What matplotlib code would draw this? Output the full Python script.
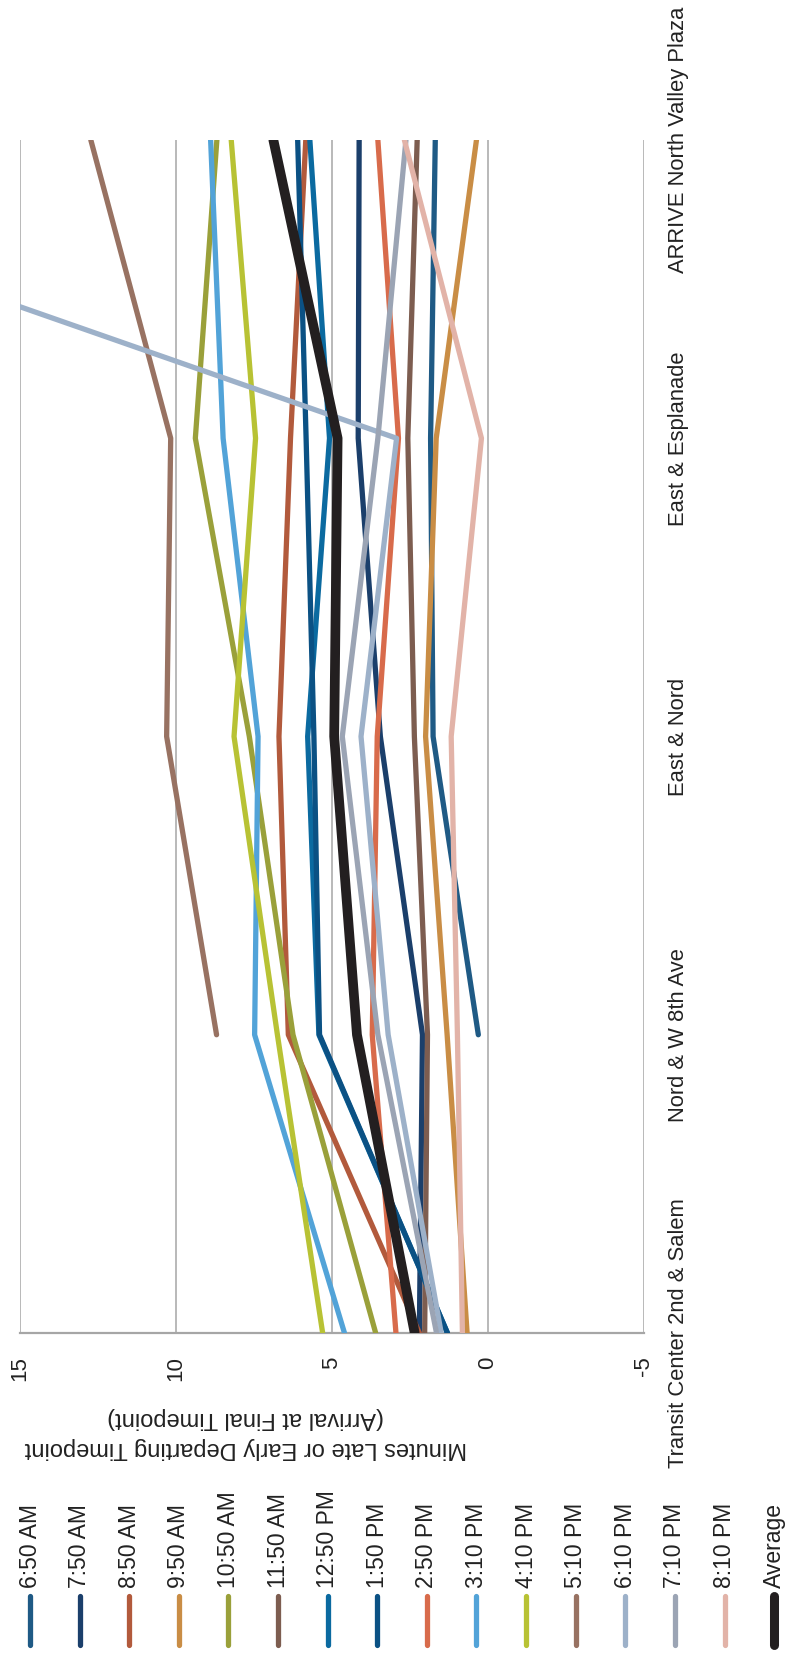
import numpy as np
import matplotlib
matplotlib.use("Agg")
import matplotlib.pyplot as plt

FONT = ["Liberation Sans", "DejaVu Sans"]

stops = ["Transit Center 2nd & Salem", "Nord & W 8th Ave", "East & Nord",
         "East & Esplanade", "ARRIVE North Valley Plaza"]

trips = ["6:50 AM", "7:50 AM", "8:50 AM", "9:50 AM", "10:50 AM", "11:50 AM",
         "12:50 PM", "1:50 PM", "2:50 PM", "3:10 PM", "4:10 PM", "5:10 PM",
         "6:10 PM", "7:10 PM", "8:10 PM"]

nan = np.nan
# minutes late at each timepoint, in stop order
t0650 = [nan, 0.31, 1.76, 1.84, 1.69]
t0750 = [2.2, 2.1, 3.45, 4.16, 4.13]
t0850 = [2.2, 6.4, 6.7, 6.33, 5.84]
t0950 = [0.67, 1.31, 2.0, 1.66, 0.37]
t1050 = [3.6, 6.25, 7.65, 9.38, 8.69]
t1150 = [2.03, 1.94, 2.36, 2.57, 2.27]
t1250 = [1.3, 5.42, 5.78, 5.08, 5.71]
t1350 = [1.3, 5.4, 5.58, 5.83, 6.1]
t1450 = [2.95, 3.71, 3.55, 2.87, 3.53]
t1510 = [4.6, 7.48, 7.37, 8.49, 8.89]
t1610 = [5.3, 6.75, 8.14, 7.45, 8.23]
t1710 = [nan, 8.7, 10.3, 10.17, 12.73]
t1810 = [1.5, 3.2, 4.07, 2.93, 30.3]
t1910 = [1.65, 3.53, 4.67, 3.53, 2.63]
t2010 = [0.82, 0.98, 1.18, 0.21, 2.68]
average = [2.35, 4.2, 4.93, 4.82, 6.88]

series = [t0650, t0750, t0850, t0950, t1050, t1150, t1250, t1350,
          t1450, t1510, t1610, t1710, t1810, t1910, t2010]

colors = ["#1F5A85", "#1B3F6B", "#B25A3C", "#C98D45", "#9AA03A", "#7D5D50",
          "#0B6AA0", "#0B5184", "#D86B4B", "#52A3D8", "#B8C234", "#987262",
          "#9DB1C9", "#9BA4B4", "#E2B3A8"]
avg_color = "#231F20"
grid_color = "#A6A6A6"
text_color = "#222222"

W, H = 789, 1659
fig = plt.figure(figsize=(W / 100, H / 100), dpi=100)

# chart is laid on its side: minutes run right-to-left, stops bottom-to-top
ax = fig.add_axes([20 / W, 1 - 1333 / H, 624 / W, 1193 / H])
pos = np.arange(len(stops))
for vals, c in zip(series, colors):
    ax.plot(vals, pos, color=c, lw=3.8, solid_capstyle="round",
            solid_joinstyle="round", zorder=3)
ax.plot(average, pos, color=avg_color, lw=7.0, solid_capstyle="round",
        solid_joinstyle="round", zorder=4)

ax.set_xlim(15, -5)
ax.set_ylim(0, len(stops) - 1)
ax.set_xticks([15, 10, 5, 0, -5])
ax.set_xticklabels(["15", "10", "5", "0", "-5"], rotation=90,
                   family=FONT, fontsize=16, color=text_color)
ax.grid(axis="x", color=grid_color, lw=1.1, zorder=1)
ax.tick_params(axis="x", length=0, pad=17)

ax.yaxis.tick_right()
ax.set_yticks(pos)
ax.set_yticklabels(stops, rotation=90, va="center", ha="left",
                   family=FONT, fontsize=15.8, color=text_color)
ax.tick_params(axis="y", length=0, pad=17)

for side in ["top", "left", "right"]:
    ax.spines[side].set_visible(False)
ax.spines["bottom"].set_color(grid_color)
ax.spines["bottom"].set_linewidth(1.6)

fig.text(246 / W, 1 - 1433 / H,
         "Minutes Late or Early Departing Timepoint\n(Arrival at Final Timepoint)",
         rotation=180, ha="center", va="center", multialignment="center",
         family=FONT, fontsize=17, color=text_color, linespacing=1.45)

# legend row along the foot of the page
lg = fig.add_axes([0, 0, 1, 169 / H])
lg.set_xlim(-0.605, 15.30)
lg.set_ylim(H, H - 169)
lg.axis("off")
names = trips + ["Average"]
for i, (name, c) in enumerate(zip(names, colors + [avg_color])):
    lw = 6.5 if name == "Average" else 3.8
    lg.plot([i, i], [1596, 1645], color=c, lw=lw, solid_capstyle="round")
    lg.text(i, 1588, name, rotation=90, ha="center", va="bottom",
            family=FONT, fontsize=16.5, color=text_color)

fig.savefig("out.png", dpi=100)
